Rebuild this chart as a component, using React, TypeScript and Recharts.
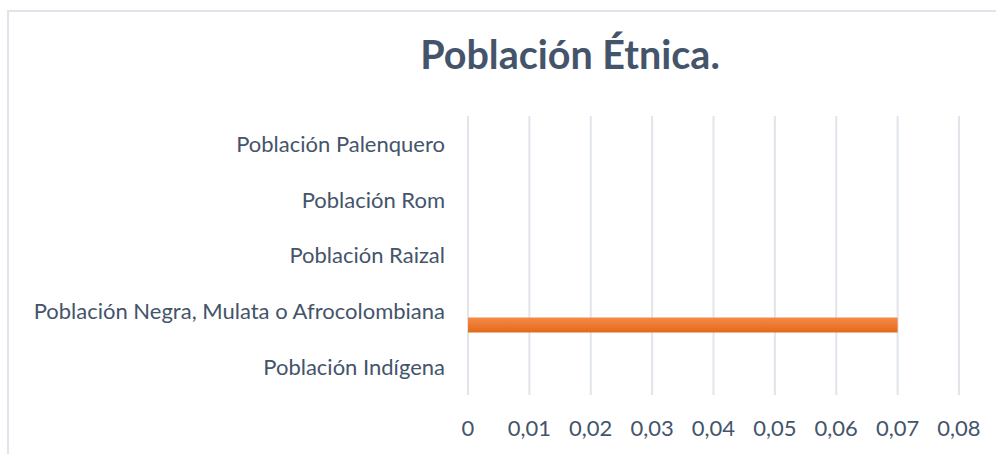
import React from "react"
import { BarChart, Bar, XAxis, YAxis, CartesianGrid } from "recharts"

const categories = [
  "Población Indígena",
  "Población Negra, Mulata o Afrocolombiana",
  "Población Raizal",
  "Población Rom",
  "Población Palenquero",
]
const serieA = [0, 0, 0, 0, 0]
const serieB = [0, 0.07, 0, 0, 0]
const xTicks = [0, 0.01, 0.02, 0.03, 0.04, 0.05, 0.06, 0.07, 0.08]

// Excel draws the first category at the bottom, so reverse for recharts
const data = categories
  .map((name, i) => ({ name, a: serieA[i], b: serieB[i] }))
  .reverse()

const textColor = "#44546A"
const font = "Lato, 'Open Sans', sans-serif"

export default function App() {
  return (
    <div style={{ position: "fixed", left: 0, top: 0, width: 996, height: 454, background: "#fff", overflow: "hidden" }}>
      <div
        style={{
          position: "absolute",
          left: 7,
          top: 10,
          width: 1200,
          height: 600,
          border: "2px solid #E1E5EB",
        }}
      />
      <div
        style={{
          position: "absolute",
          left: 0,
          width: 1140,
          top: 31,
          textAlign: "center",
          fontFamily: font,
          fontWeight: 700,
          fontSize: 39.5,
          color: textColor,
          lineHeight: "46px",
        }}
      >
        Población Étnica.
      </div>
      <div style={{ position: "absolute", left: 0, top: 0 }}>
        <BarChart
          width={996}
          height={454}
          data={data}
          layout="vertical"
          margin={{ top: 116, right: 37, bottom: 29, left: 0 }}
          barSize={15}
          barGap={13}
        >
          <defs>
            <linearGradient id="orangeGrad" x1="0" y1="0" x2="0" y2="1">
              <stop offset="0%" stopColor="#F58A48" />
              <stop offset="100%" stopColor="#E4691A" />
            </linearGradient>
          </defs>
          <CartesianGrid horizontal={false} stroke="#E1E5EB" strokeWidth={2} />
          <XAxis
            type="number"
            domain={[0, 0.08]}
            ticks={xTicks}
            tickFormatter={(v: number) => String(v).replace(".", ",")}
            axisLine={false}
            tickLine={false}
            tickSize={0}
            tickMargin={25}
            height={30}
            tick={{ fill: textColor, fontSize: 22, fontFamily: font }}
            interval={0}
          />
          <YAxis
            type="category"
            dataKey="name"
            width={468}
            axisLine={false}
            tickLine={false}
            tickSize={0}
            tickMargin={23}
            tick={{ fill: textColor, fontSize: 22, fontFamily: font }}
            interval={0}
          />
          <Bar dataKey="a" fill="#4472C4" isAnimationActive={false} />
          <Bar dataKey="b" fill="url(#orangeGrad)" isAnimationActive={false} />
        </BarChart>
      </div>
    </div>
  )
}
